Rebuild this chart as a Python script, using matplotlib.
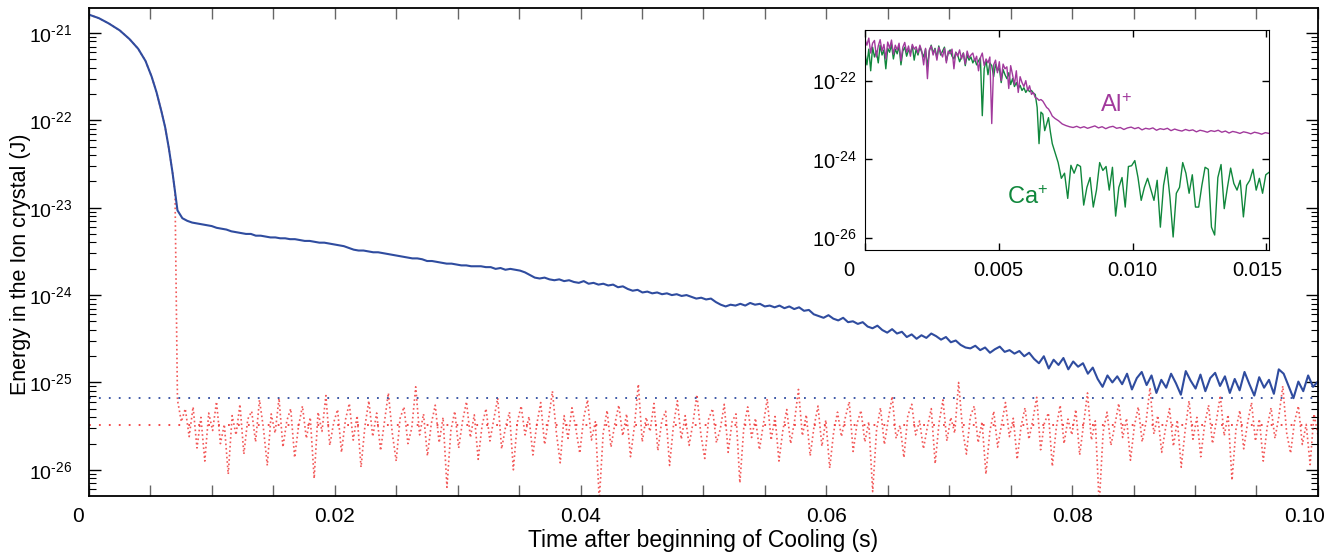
import matplotlib
matplotlib.use('agg')
import matplotlib.pyplot as plt  # noqa: E402
import matplotlib.ticker as mticker  # noqa: E402
import matplotlib.transforms as mtrans  # noqa: E402
import numpy as np  # noqa: E402

plt.rcParams['font.family'] = ['Liberation Sans', 'DejaVu Sans']
plt.rcParams['mathtext.fontset'] = 'custom'
plt.rcParams['mathtext.rm'] = 'Liberation Sans'
plt.rcParams['mathtext.it'] = 'Liberation Sans:italic'

# ---- data: log10 of energy (J) ----
# fast cooling part (shared by both traces)
decay_t = [0.0, 0.0008, 0.0016, 0.0025, 0.0033, 0.0040, 0.0046, 0.0051,
           0.0055, 0.0059, 0.0062, 0.0065, 0.0068, 0.0070]
decay_log = [-20.79, -20.83, -20.89, -20.97, -21.07, -21.18, -21.32, -21.50,
             -21.68, -21.90, -22.08, -22.32, -22.60, -22.82]

# blue trace after the knee, 0.0072 .. 0.1 s
blue_t0, blue_t1 = 0.0072, 0.1
blue_log = [
    -23.03, -23.12, -23.15, -23.17, -23.18, -23.19, -23.20, -23.21, -23.23, -23.24, -23.25, -23.27,
    -23.28, -23.29, -23.30, -23.30, -23.32, -23.32, -23.33, -23.34, -23.34, -23.35,
    -23.35, -23.36, -23.36, -23.37, -23.38, -23.38, -23.39, -23.40, -23.40, -23.41,
    -23.42, -23.43, -23.44, -23.46, -23.48, -23.49, -23.49, -23.50, -23.51, -23.51,
    -23.52, -23.53, -23.54, -23.55, -23.56, -23.57, -23.58, -23.58, -23.59, -23.61,
    -23.61, -23.62, -23.63, -23.64, -23.64, -23.65, -23.66, -23.66, -23.67, -23.67,
    -23.67, -23.68, -23.68, -23.70, -23.69, -23.71, -23.70, -23.71, -23.72, -23.74,
    -23.77, -23.80, -23.81, -23.80, -23.82, -23.83, -23.82, -23.84, -23.83, -23.85,
    -23.86, -23.84, -23.87, -23.86, -23.88, -23.87, -23.89, -23.88, -23.91, -23.90,
    -23.93, -23.95, -23.94, -23.97, -23.96, -23.98, -23.97, -23.99, -23.98, -24.00,
    -23.99, -24.01, -24.00, -24.02, -24.04, -24.03, -24.05, -24.04, -24.08, -24.11,
    -24.13, -24.11, -24.12, -24.10, -24.12, -24.09, -24.11, -24.10, -24.13, -24.12,
    -24.14, -24.12, -24.15, -24.13, -24.16, -24.14, -24.18, -24.17, -24.22, -24.24,
    -24.26, -24.23, -24.27, -24.29, -24.26, -24.31, -24.30, -24.33, -24.31, -24.36,
    -24.38, -24.35, -24.40, -24.43, -24.39, -24.44, -24.42, -24.48, -24.45, -24.50,
    -24.46, -24.49, -24.44, -24.47, -24.51, -24.48, -24.54, -24.52, -24.57, -24.60,
    -24.61, -24.58, -24.63, -24.60, -24.66, -24.62, -24.59, -24.65, -24.63, -24.67,
    -24.64, -24.70, -24.66, -24.73, -24.78, -24.70, -24.84, -24.74, -24.80, -24.72,
    -24.85, -24.76, -24.82, -24.78, -24.90, -24.83, -24.96, -25.05, -24.92, -25.00,
    -24.93, -25.02, -24.90, -25.08, -24.95, -24.88, -25.03, -24.92, -25.12, -24.97,
    -25.06, -24.90, -25.01, -25.14, -24.87, -24.98, -25.07, -24.91, -25.10, -24.95,
    -24.89, -25.04, -24.93, -25.12, -24.96, -25.09, -24.88, -25.02, -25.15, -24.94,
    -25.06, -24.97, -25.13, -24.85, -24.90, -25.04, -25.18, -24.99, -25.10, -24.92,
    -25.05, -24.99]

# red (dotted) trace after it drops, 0.0072 .. 0.1 s
red_t0, red_t1 = 0.0072, 0.1
red_log = [
    -25.20, -25.45, -25.30, -25.62, -25.28, -25.75, -25.40, -25.90, -25.35, -25.55, -25.22,
    -25.70, -25.48, -26.05, -25.38, -25.60, -25.25, -25.82, -25.42, -25.33, -25.68,
    -25.20, -25.52, -25.95, -25.36, -25.58, -25.18, -25.74, -25.44, -25.30, -25.86,
    -25.50, -25.27, -25.64, -25.40, -26.10, -25.34, -25.56, -25.15, -25.72, -25.46,
    -25.31, -25.80, -25.43, -25.24, -25.66, -25.38, -25.97, -25.50, -25.21, -25.62,
    -25.35, -25.78, -25.45, -25.12, -25.58, -25.90, -25.41, -25.28, -25.70, -25.52,
    -25.05, -25.60, -25.36, -25.84, -25.47, -25.26, -25.69, -25.40, -26.20, -25.55,
    -25.33, -25.75, -25.44, -25.22, -25.63, -25.37, -25.88, -25.49, -25.30, -25.67,
    -25.42, -25.18, -25.76, -25.51, -25.34, -26.00, -25.46, -25.27, -25.60, -25.39,
    -25.83, -25.48, -25.23, -25.71, -25.43, -25.10, -25.57, -25.92, -25.38, -25.64,
    -25.29, -25.53, -25.81, -25.41, -25.20, -25.66, -25.45, -26.35, -25.58, -25.32,
    -25.74, -25.47, -25.26, -25.61, -25.36, -25.85, -25.50, -25.02, -25.68, -25.40,
    -25.56, -25.24, -25.78, -25.44, -25.33, -25.95, -25.49, -25.21, -25.65, -25.38,
    -25.72, -25.46, -25.14, -25.59, -25.87, -25.42, -25.30, -25.69, -25.53, -25.25,
    -25.80, -25.45, -25.36, -26.15, -25.52, -25.28, -25.63, -25.41, -25.77, -25.48,
    -25.19, -25.66, -25.39, -25.90, -25.55, -25.31, -25.70, -25.44, -25.08, -25.61,
    -25.37, -25.84, -25.50, -25.27, -25.73, -25.43, -25.98, -25.57, -25.34, -25.62,
    -25.40, -25.22, -25.79, -25.47, -25.32, -25.68, -25.45, -26.25, -25.54, -25.29,
    -25.71, -25.42, -25.16, -25.64, -25.49, -25.86, -25.38, -25.25, -25.60, -25.44,
    -25.76, -25.51, -25.30, -25.93, -25.46, -25.20, -25.67, -25.40, -25.58, -25.00,
    -25.53, -25.82, -25.39, -25.27, -25.69, -25.45, -26.05, -25.56, -25.33, -25.74,
    -25.48, -25.23, -25.62, -25.41, -25.88, -25.50, -25.29, -25.65, -25.43, -25.17,
    -25.77, -25.46, -25.35, -25.96, -25.52, -25.26, -25.70, -25.42, -25.60, -25.31,
    -25.83, -25.47, -25.12, -25.66, -25.44, -26.40, -25.57, -25.34, -25.72, -25.49,
    -25.24, -25.63, -25.41, -25.89, -25.50, -25.28, -25.68, -25.45, -25.06, -25.59,
    -25.38, -25.80, -25.52, -25.30, -25.73, -25.43, -25.97, -25.55, -25.21, -25.65,
    -25.40, -25.85, -25.48, -25.26, -25.70, -25.44, -25.15, -25.61, -25.37, -26.12,
    -25.54, -25.32, -25.76, -25.46, -25.23, -25.67, -25.42, -25.90, -25.51, -25.29,
    -25.64, -25.39, -25.04, -25.58, -25.81, -25.45, -25.27, -25.71, -25.48, -25.94,
    -25.36, -25.60]

# final levels (dotted horizontal lines)
blue_level = 6.7e-26
red_level = 3.3e-26

# inset: Al+ and Ca+ energies
ins_early_t0, ins_early_t1 = 0.0, 0.0070
al_early = [
    -20.95, -21.10, -20.92, -21.30, -21.05, -20.98, -21.40, -21.12, -20.96, -21.25,
    -21.08, -21.45, -21.02, -21.18, -20.97, -21.33, -21.10, -21.22, -21.05, -21.50,
    -21.15, -21.03, -21.28, -21.12, -21.38, -21.08, -21.20, -21.14, -21.30,
    -21.10, -21.25, -21.60, -21.18, -21.95, -21.22, -21.12, -21.35, -21.20, -21.48,
    -21.15, -21.28, -21.40, -21.18, -21.55, -21.25, -21.32, -21.20, -21.70, -21.28,
    -21.38, -21.22, -21.45, -21.30, -21.58, -21.25, -21.42, -21.35, -21.30,
    -21.50, -21.38, -21.75, -21.42, -21.30, -21.62, -21.45, -21.55, -21.40, -23.09,
    -21.60, -21.48, -21.80, -21.52, -22.00, -21.58, -21.70, -21.65, -22.20, -21.62,
    -21.85, -22.10, -21.75, -22.30, -21.90, -22.05, -22.15, -22.00, -22.25, -22.13,
    -22.35, -22.30, -22.43, -22.45, -22.50, -22.48, -22.52, -22.60, -22.68, -22.72,
    -22.80, -22.90]
ca_early = [
    -21.30, -21.60, -21.20, -21.75, -21.15, -21.40, -21.25, -21.55, -21.10, -21.35,
    -21.22, -21.70, -21.18, -21.28, -21.08, -21.45, -21.20, -21.32, -21.12, -21.60,
    -21.25, -21.15, -21.38, -21.22, -21.30, -21.12, -21.48, -21.20, -21.35,
    -21.15, -21.28, -21.40, -21.20, -21.65, -21.25, -21.10, -21.30, -21.18, -21.42,
    -21.12, -21.35, -21.25, -21.15, -21.50, -21.30, -21.22, -21.38, -21.45, -21.28,
    -21.35, -21.52, -21.40, -21.30, -21.62, -21.35, -21.48, -21.40, -21.55,
    -21.45, -21.60, -21.50, -21.42, -22.89, -21.70, -21.48, -21.85, -21.55, -21.62,
    -21.90, -21.58, -21.75, -21.68, -22.05, -21.72, -21.85, -21.95, -21.80, -22.10,
    -21.95, -22.15, -22.05, -22.20, -22.12, -22.25, -22.18, -22.30, -22.22, -22.28,
    -22.25, -22.32, -22.35, -22.68, -23.60, -22.80, -22.85, -23.27, -23.10, -22.94,
    -23.30, -23.60]

ins_late_t0, ins_late_t1 = 0.0071, 0.0151
al_late = [
    -22.96, -23.02, -23.10, -23.14, -23.17, -23.19, -23.16, -23.20, -23.17, -23.21,
    -23.18, -23.15, -23.20, -23.17, -23.22, -23.18, -23.16, -23.21, -23.19, -23.24,
    -23.20, -23.18, -23.22, -23.19, -23.25, -23.21, -23.23, -23.20, -23.26, -23.22,
    -23.24, -23.21, -23.27, -23.23, -23.26, -23.28, -23.24, -23.27, -23.25, -23.30,
    -23.26, -23.28, -23.31, -23.27, -23.29, -23.26, -23.31, -23.28, -23.33, -23.29,
    -23.31, -23.34, -23.30, -23.32, -23.35, -23.31, -23.33, -23.36, -23.32, -23.34]
ca_late = [
    -23.82, -24.08, -24.48, -24.35, -24.99, -24.15, -24.35, -24.13, -24.18, -25.16,
    -24.71, -24.46, -25.21, -24.78, -24.08, -24.28, -24.18, -24.78, -24.20, -25.44,
    -24.71, -24.46, -25.21, -24.18, -24.16, -24.03, -24.46, -25.04, -24.71, -24.48,
    -24.76, -25.04, -24.53, -25.72, -24.66, -24.20, -24.96, -25.97, -24.86, -24.71,
    -24.08, -24.35, -24.86, -24.39, -25.21, -25.21, -24.66, -24.20, -24.25, -25.72,
    -25.92, -24.46, -24.13, -25.25, -24.71, -24.22, -24.61, -24.78, -24.53, -25.46,
    -24.66, -24.53, -24.25, -24.78, -24.48, -24.86, -24.39, -24.33]

ylo, yhi = 10 ** -26.30, 10 ** -20.714

blue_c = '#2f4c9f'
red_c = '#f03c3c'
al_c = '#a1399c'
ca_c = '#10873c'


def log_fmt(v, pos):
    return r'$\mathregular{10^{\text{-%d}}}$' % int(round(-np.log10(v)))


def shift_label(lab, fig, dx):
    lab.set_transform(lab.get_transform() +
                      mtrans.ScaledTranslation(dx / 100.0, 0, fig.dpi_scale_trans))


fig = plt.figure(figsize=(13.38, 5.52), dpi=100)
ax = fig.add_axes([0.0665, 0.1014, 0.9185, 0.8841])

t_blue = np.concatenate([decay_t, np.linspace(blue_t0, blue_t1, len(blue_log))])
e_blue = 10 ** np.concatenate([decay_log, blue_log])
t_red = np.concatenate([decay_t, np.linspace(red_t0, red_t1, len(red_log))])
e_red = 10 ** np.concatenate([decay_log, red_log])

ax.plot(t_red, e_red, color=red_c, lw=1.2, ls=':', alpha=0.85)
ax.axhline(red_level, color=red_c, lw=1.3, ls=(0, (1, 4.5)))
ax.axhline(blue_level, color=blue_c, lw=1.3, ls=(0, (1, 4.5)))
ax.plot(t_blue, e_blue, color=blue_c, lw=1.5)

ax.set_yscale('log')
ax.set_xlim(0, 0.1)
ax.set_ylim(ylo, yhi)
ax.set_xticks([0, 0.02, 0.04, 0.06, 0.08, 0.10])
ax.set_xticklabels(['0', '0.02', '0.04', '0.06', '0.08', '0.10'])
ax.xaxis.set_minor_locator(mticker.MultipleLocator(0.005))
ax.yaxis.set_major_locator(mticker.FixedLocator([1e-26, 1e-25, 1e-24, 1e-23, 1e-22, 1e-21]))
ax.yaxis.set_minor_locator(mticker.LogLocator(base=10, subs=np.arange(2, 10), numticks=20))
ax.yaxis.set_major_formatter(mticker.FuncFormatter(log_fmt))
ax.yaxis.set_minor_formatter(mticker.NullFormatter())
ax.tick_params(axis='x', which='both', direction='in', top=True, length=8,
               width=1, color='#666666', labelsize=15, pad=8)
ax.tick_params(axis='y', which='major', direction='in', right=True, length=8.5,
               width=1, labelsize=14, pad=12)
ax.tick_params(axis='y', which='minor', direction='in', right=True, length=5, width=0.8)
for s in ax.spines.values():
    s.set_linewidth(1.3)
ax.set_xlabel('Time after beginning of Cooling (s)', fontsize=16.5, labelpad=2)
ax.set_ylabel('Energy in the Ion crystal (J)', fontsize=15.5)
ax.yaxis.set_label_coords(-0.047, 0.475)

# inset
ins = fig.add_axes([0.6465, 0.5471, 0.3019, 0.3986])
t_early = np.linspace(ins_early_t0, ins_early_t1, len(al_early))
t_late_al = np.linspace(ins_late_t0, ins_late_t1, len(al_late))
t_late_ca = np.linspace(ins_late_t0, ins_late_t1, len(ca_late))
ins.plot(np.concatenate([t_early, t_late_ca]), 10 ** np.concatenate([ca_early, ca_late]),
         color=ca_c, lw=1.0)
ins.plot(np.concatenate([t_early, t_late_al]), 10 ** np.concatenate([al_early, al_late]),
         color=al_c, lw=1.0)
ins.set_yscale('log')
ins.set_xlim(0, 0.0151)
ins.set_ylim(ylo, yhi)
ins.set_xticks([0, 0.005, 0.010, 0.015])
ins.set_xticklabels(['0', '0.005', '0.010', '0.015'])
ins.set_yticks([1e-22, 1e-24, 1e-26])
ins.yaxis.set_major_formatter(mticker.FuncFormatter(log_fmt))
ins.yaxis.set_minor_locator(mticker.NullLocator())
ins.tick_params(axis='both', which='major', direction='in', top=True, right=True,
                length=5, width=1, labelsize=14.5)
ins.tick_params(axis='x', pad=8)
ins.tick_params(axis='y', pad=6)
ins.text(0.0088, 10 ** -22.63, r'Al$^{+}$', color=al_c, fontsize=17, va='center')
ins.text(0.0053, 10 ** -24.96, r'Ca$^{+}$', color=ca_c, fontsize=17, va='center')

fig.canvas.draw()
xl = ax.get_xticklabels()
shift_label(xl[0], fig, -11)
shift_label(xl[-1], fig, -13)
il = ins.get_xticklabels()
shift_label(il[0], fig, -16)
shift_label(il[-1], fig, -9)

fig.savefig('out.png', dpi=100)
